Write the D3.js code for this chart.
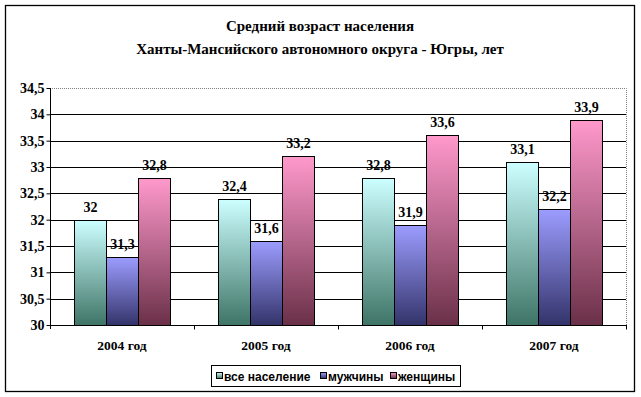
<!DOCTYPE html>
<html>
<head>
<meta charset="utf-8">
<script src="https://cdn.jsdelivr.net/npm/d3@7"></script>
<style>
  body { margin: 0; background: #fff; }
  svg { display: block; }
</style>
</head>
<body>
<div id="chart"></div>
<script>
const years = ["2004 год", "2005 год", "2006 год", "2007 год"];
const seriesNames = ["все население", "мужчины", "женщины"];
const allPeople = [32, 32.4, 32.8, 33.1];
const men = [31.3, 31.6, 31.9, 32.2];
const women = [32.8, 33.2, 33.6, 33.9];
const yTicks = [30, 30.5, 31, 31.5, 32, 32.5, 33, 33.5, 34, 34.5];
const titleLines = ["Средний возраст населения", "Ханты-Мансийского автономного округа - Югры, лет"];

const seriesValues = [allPeople, men, women];
// gradient top/bottom colours for each series
const fills = [["#ccffff", "#3e7466"], ["#9c9cff", "#33336a"], ["#ff99cc", "#6a3048"]];

const W = 641, H = 397;
const margin = {left: 50, right: 15, top: 88, bottom: 72};
const fmt = v => String(v).replace(".", ",");
const serif = "Liberation Serif, Times New Roman, serif";

const svg = d3.select("#chart").append("svg")
    .attr("width", W)
    .attr("height", H);

const defs = svg.append("defs");
fills.forEach((c, i) => {
    const g = defs.append("linearGradient")
        .attr("id", "grad" + i)
        .attr("x1", 0).attr("y1", 0).attr("x2", 0).attr("y2", 1);
    g.append("stop").attr("offset", "0%").attr("stop-color", c[0]);
    g.append("stop").attr("offset", "45%").attr("stop-color", d3.interpolateRgb(c[0], c[1])(0.45));
    g.append("stop").attr("offset", "100%").attr("stop-color", c[1]);
});

// outer frame
svg.append("rect")
    .attr("x", 5.5).attr("y", 5.5)
    .attr("width", 629).attr("height", 386)
    .attr("fill", "none")
    .attr("stroke", "#000")
    .attr("stroke-width", 1.3);

// title
svg.append("g").selectAll("text")
    .data(titleLines)
    .join("text")
    .attr("x", 320)
    .attr("y", (d, i) => 31 + i * 23)
    .attr("text-anchor", "middle")
    .attr("font-family", serif)
    .attr("font-weight", "bold")
    .attr("font-size", 15)
    .text(d => d);

const x0 = d3.scaleBand()
    .domain(years)
    .range([margin.left, W - margin.right])
    .paddingInner(1 / 3)
    .paddingOuter(1 / 6);

const x1 = d3.scaleBand()
    .domain(d3.range(seriesNames.length))
    .range([0, x0.bandwidth()]);

const y = d3.scaleLinear()
    .domain([30, 34.5])
    .range([H - margin.bottom, margin.top]);

const plotL = margin.left, plotR = W - margin.right;
const plotT = margin.top, plotB = H - margin.bottom;

// gridlines
svg.append("g").selectAll("line")
    .data(yTicks.filter(t => t > 30 && t < 34.5))
    .join("line")
    .attr("x1", plotL).attr("x2", plotR)
    .attr("y1", d => Math.round(y(d)) + 0.5)
    .attr("y2", d => Math.round(y(d)) + 0.5)
    .attr("stroke", "#000");

// dotted plot frame (top and right)
svg.append("path")
    .attr("d", `M${plotL},${plotT + 0.5}H${plotR + 0.5}V${plotB}`)
    .attr("fill", "none")
    .attr("stroke", "#808080")
    .attr("stroke-dasharray", "1,1");

// bars
const groups = svg.append("g").selectAll("g")
    .data(years)
    .join("g")
    .attr("transform", d => `translate(${x0(d)},0)`);

groups.selectAll("rect")
    .data((d, i) => seriesValues.map((s, j) => ({j, v: s[i]})))
    .join("rect")
    .attr("x", d => x1(d.j) + 0.5)
    .attr("y", d => Math.round(y(d.v)) + 0.5)
    .attr("width", x1.bandwidth())
    .attr("height", d => plotB - Math.round(y(d.v)))
    .attr("fill", d => `url(#grad${d.j})`)
    .attr("stroke", "#000");

groups.selectAll("text")
    .data((d, i) => seriesValues.map((s, j) => ({j, v: s[i]})))
    .join("text")
    .attr("x", d => x1(d.j) + x1.bandwidth() / 2 + 0.5)
    .attr("y", d => y(d.v) - 8)
    .attr("text-anchor", "middle")
    .attr("font-family", serif)
    .attr("font-weight", "bold")
    .attr("font-size", 14)
    .text(d => fmt(d.v));

// y axis
const yAxis = svg.append("g")
    .attr("transform", `translate(${plotL + 0.5},0)`)
    .call(d3.axisLeft(y).tickValues(yTicks).tickSize(4).tickPadding(2).tickFormat(fmt));
yAxis.select(".domain").attr("d", `M0,${plotT}V${plotB + 4}`).attr("stroke", "#000");
yAxis.selectAll(".tick line").attr("stroke", "#000");
yAxis.selectAll(".tick text")
    .attr("font-family", serif)
    .attr("font-weight", "bold")
    .attr("font-size", 14)
    .attr("fill", "#000");

// x axis
const xAxis = svg.append("g")
    .attr("transform", `translate(0,${plotB + 0.5})`);
xAxis.append("line")
    .attr("x1", plotL).attr("x2", plotR + 1)
    .attr("stroke", "#000");
xAxis.selectAll(".sep")
    .data(years)
    .join("line")
    .attr("class", "sep")
    .attr("x1", d => Math.round(x0(d) + x0.bandwidth() + x0.step() * x0.paddingInner() / 2) + 0.5)
    .attr("x2", d => Math.round(x0(d) + x0.bandwidth() + x0.step() * x0.paddingInner() / 2) + 0.5)
    .attr("y1", 0).attr("y2", 4)
    .attr("stroke", "#000");
xAxis.selectAll("text")
    .data(years)
    .join("text")
    .attr("x", d => x0(d) + x0.bandwidth() / 2)
    .attr("y", 24)
    .attr("text-anchor", "middle")
    .attr("font-family", serif)
    .attr("font-weight", "bold")
    .attr("font-size", 13.5)
    .text(d => d);

// legend
const legend = svg.append("g");
legend.append("rect")
    .attr("x", 211.5).attr("y", 365.5)
    .attr("width", 249).attr("height", 21)
    .attr("fill", "#fff")
    .attr("stroke", "#000");
const legendX = [216, 320, 390];
const items = legend.selectAll("g")
    .data(seriesNames)
    .join("g")
    .attr("transform", (d, i) => `translate(${legendX[i]},372)`);
items.append("rect")
    .attr("x", 0.5).attr("y", 0.5)
    .attr("width", 6).attr("height", 6)
    .attr("fill", (d, i) => `url(#grad${i})`)
    .attr("stroke", "#000");
items.append("text")
    .attr("x", 8)
    .attr("y", 8.5)
    .attr("font-family", "Liberation Sans, Arial, sans-serif")
    .attr("font-weight", "bold")
    .attr("font-size", 12)
    .text(d => d);
</script>
</body>
</html>
